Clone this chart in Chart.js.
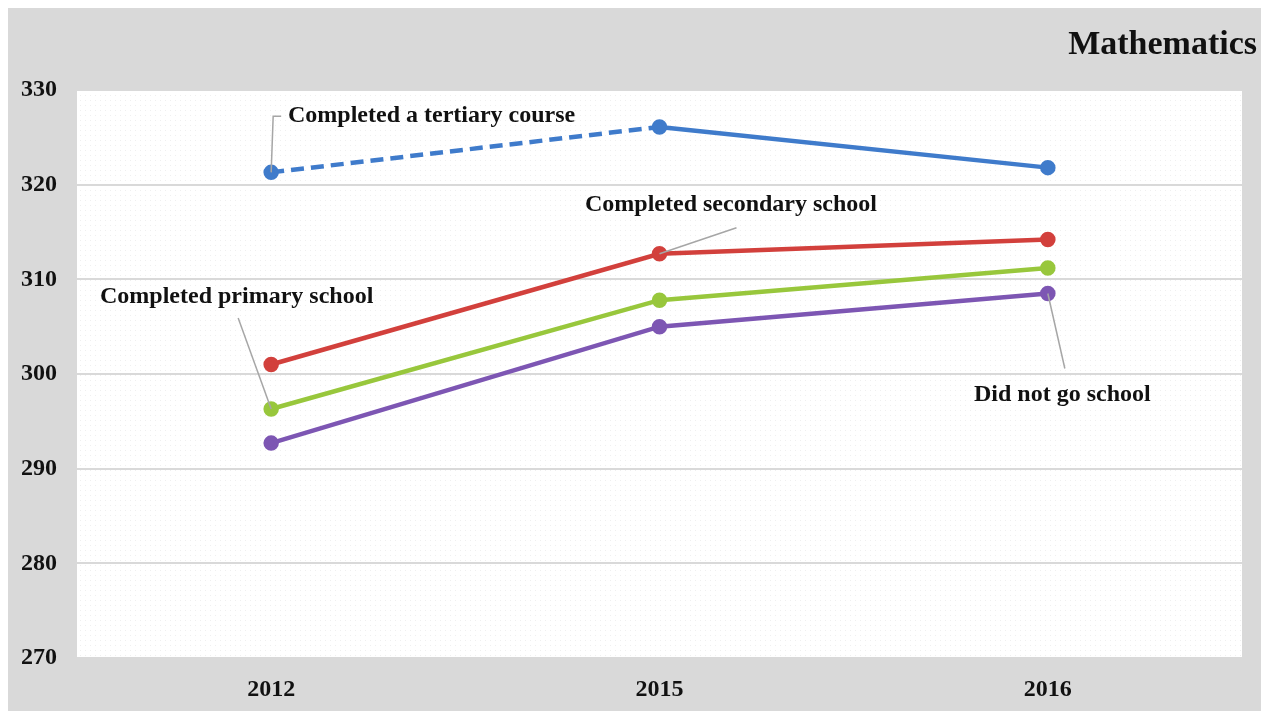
<!DOCTYPE html>
<html>
<head>
<meta charset="utf-8">
<script src="https://cdn.jsdelivr.net/npm/chart.js@4/dist/chart.umd.min.js"></script>
<style>
  body{ margin:0; background:#fff; }
  #wrap{ position:absolute; left:8px; top:8px; width:1253px; height:703px; background:#d9d9d9; }
</style>
</head>
<body>
<div id="wrap"><canvas id="grafico"></canvas></div>
<script>
const anios = ["2012", "2015", "2016"];
const terciaria = [321.3, 326.1, 321.8];
const secundaria = [301.0, 312.7, 314.2];
const primaria = [296.3, 307.8, 311.2];
const sinEscuela = [292.7, 305.0, 308.5];

const nombres = ["Completed a tertiary course", "Completed secondary school", "Completed primary school", "Did not go school"];
const colores = ["#3f7bcb", "#d2403c", "#98c73c", "#7d56b3"];

const fuenteSerif = "'Liberation Serif', 'Times New Roman', serif";

// fondo punteado del area del grafico
function crearPatron(){
  const c = document.createElement("canvas");
  c.width = 5; c.height = 5;
  const x = c.getContext("2d");
  x.fillStyle = "#ffffff";
  x.fillRect(0, 0, 5, 5);
  x.fillStyle = "#efefef";
  x.fillRect(2, 2, 1, 1);
  return x.createPattern(c, "repeat");
}

const fondoArea = {
  id: "fondoArea",
  beforeDraw(chart){
    const {ctx, chartArea} = chart;
    ctx.save();
    ctx.fillStyle = crearPatron();
    ctx.fillRect(chartArea.left, chartArea.top, chartArea.right - chartArea.left, chartArea.bottom - chartArea.top);
    ctx.restore();
  }
};

// etiquetas con lineas guia
const etiquetas = {
  id: "etiquetas",
  afterDraw(chart){
    const ctx = chart.ctx;
    const punto = (ds, i) => chart.getDatasetMeta(ds).data[i];

    ctx.save();
    ctx.strokeStyle = "#a6a6a6";
    ctx.lineWidth = 1.5;

    let p = punto(0, 0);
    ctx.beginPath();
    ctx.moveTo(p.x, p.y);
    ctx.lineTo(p.x + 2, p.y - 56);
    ctx.lineTo(p.x + 10, p.y - 56);
    ctx.stroke();

    p = punto(1, 1);
    ctx.beginPath();
    ctx.moveTo(p.x, p.y);
    ctx.lineTo(p.x + 77, p.y - 26);
    ctx.stroke();

    p = punto(2, 0);
    ctx.beginPath();
    ctx.moveTo(p.x, p.y);
    ctx.lineTo(p.x - 33, p.y - 91);
    ctx.stroke();

    p = punto(3, 2);
    ctx.beginPath();
    ctx.moveTo(p.x, p.y);
    ctx.lineTo(p.x + 17, p.y + 75);
    ctx.stroke();

    ctx.fillStyle = "#111";
    ctx.font = "bold 24px " + fuenteSerif;
    ctx.textBaseline = "middle";
    ctx.textAlign = "left";
    ctx.fillText(nombres[0], 280, 108);
    ctx.fillText(nombres[1], 577, 197);
    ctx.fillText(nombres[2], 92, 289);
    ctx.fillText(nombres[3], 966, 387);

    ctx.font = "bold 34px " + fuenteSerif;
    ctx.textAlign = "right";
    ctx.fillText("Mathematics", 1249, 37);
    ctx.restore();
  }
};

const series = [terciaria, secundaria, primaria, sinEscuela];

const datasets = series.map((valores, i) => ({
  label: nombres[i],
  data: valores,
  borderColor: colores[i],
  backgroundColor: colores[i],
  borderWidth: 4.5,
  pointRadius: 5.5,
  pointHoverRadius: 5.5,
  tension: 0,
  segment: i === 0 ? {
    borderDash: ctx => ctx.p0DataIndex === 0 ? [13, 7] : undefined
  } : undefined
}));

const ctx = document.getElementById("grafico").getContext("2d");

new Chart(ctx, {
  type: "line",
  data: { labels: anios, datasets: datasets },
  options: {
    responsive: true,
    maintainAspectRatio: false,
    animation: false,
    layout: { padding: { left: 0, top: 82, right: 19, bottom: 0 } },
    plugins: {
      legend: { display: false },
      tooltip: { enabled: false }
    },
    scales: {
      x: {
        offset: true,
        grid: { display: false },
        border: { display: false },
        ticks: {
          color: "#111",
          padding: 9,
          font: { family: fuenteSerif, size: 24, weight: "bold" }
        },
        afterFit: s => { s.height = 53; }
      },
      y: {
        min: 270,
        max: 330,
        ticks: {
          stepSize: 10,
          color: "#111",
          padding: 20,
          font: { family: fuenteSerif, size: 24, weight: "bold" }
        },
        grid: { color: "#d9d9d9", lineWidth: 2, drawTicks: false },
        border: { display: false },
        afterFit: s => { s.width = 69; }
      }
    }
  },
  plugins: [fondoArea, etiquetas]
});
</script>
</body>
</html>
